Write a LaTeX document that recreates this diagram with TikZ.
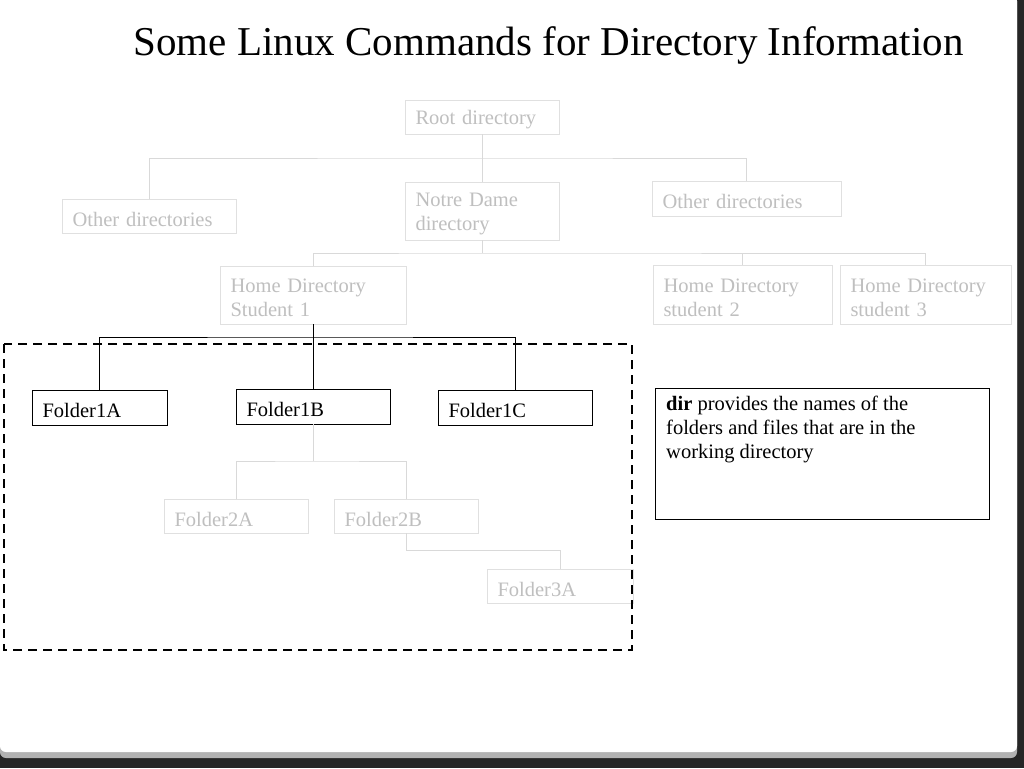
\documentclass[tikz,border=0pt]{standalone}
\usepackage{fontspec}
\setmainfont{Liberation Serif}
\begin{document}
\begin{tikzpicture}[x=1pt,y=-1pt,
  gbox/.style={draw=black!12,text=black!25,line width=1pt,rectangle,inner sep=0pt,font=\fontsize{20.5}{24}\selectfont},
  bbox/.style={draw=black,text=black,line width=1pt,rectangle,inner sep=0pt,font=\fontsize{20.5}{24}\selectfont},
  gl/.style={draw=black!15,line width=1pt},
  bl/.style={draw=black,line width=1pt}]
\useasboundingbox (0,0) rectangle (1024,768);
\fill[black!85] (0,0) rectangle (1024,768);
\fill[black!30,rounded corners=6pt] (0,-5) rectangle (1017,758);
\fill[white,rounded corners=6pt] (0,-5) rectangle (1017,752);
\node[anchor=base west,font=\fontsize{41}{48}\selectfont] (title) at (130,56) {Some Linux Commands for Directory Information};
\newcommand\mybox[7]{\path[#1] (#2,#3) rectangle (#4,#5);
  \node[#1,draw=none,anchor=west,text width=#4pt-#2pt-14pt,align=left] (#6) at (#2+10,{(#3+#5)/2+3}) {#7};
  \coordinate (#6-t) at ({(#2+#4)/2},#3); \coordinate (#6-b) at ({(#2+#4)/2},#5);}
\mybox{gbox}{405}{100}{559}{134}{root}{Root directory}
\mybox{gbox}{62}{199}{236}{233}{odl}{Other directories}
\mybox{gbox}{405}{182}{559}{240}{nd}{Notre Dame\\directory}
\mybox{gbox}{652}{181}{841}{216}{odr}{Other directories}
\mybox{gbox}{220}{266}{406}{324}{h1}{Home Directory\\Student 1}
\mybox{gbox}{653}{265}{832}{324}{h2}{Home Directory\\student 2}
\mybox{gbox}{840}{265}{1011}{324}{h3}{Home Directory\\student 3}
\mybox{bbox}{32}{390}{167}{425}{fa}{Folder1A}
\mybox{bbox}{236}{389}{390}{424}{fb}{Folder1B}
\mybox{bbox}{438}{390}{592}{425}{fc}{Folder1C}
\mybox{gbox}{164}{499}{308}{533}{f2a}{Folder2A}
\mybox{gbox}{334}{499}{478}{533}{f2b}{Folder2B}
\mybox{gbox}{487}{569}{633}{603}{f3a}{Folder3A}
\draw[line width=1pt] (655,388) rectangle (989,519);
\node[anchor=north west,align=left,font=\fontsize{20.5}{24}\selectfont,inner sep=0pt] (dir) at (666,396) {\textbf{dir} provides the names of the\\folders and files that are in the\\working directory};
\draw[gl] (root-b) -- ++(0,24) coordinate (j1);
\draw[gl] (odl-t) |- (j1) -| (odr-t);
\draw[gl] (j1) -- (nd-t);
\draw[gl] (nd-b) -- ++(0,13) coordinate (j2);
\draw[gl] (h1-t) |- (j2) -| (h3-t);
\draw[gl] (j2 -| h2-t) -- (h2-t);
\draw[bl] (h1-b) -- ++(0,13) coordinate (j3);
\draw[bl] (fa-t) |- (j3) -| (fc-t);
\draw[bl] (j3) -- (fb-t);
\draw[gl] (fb-b) -- ++(0,37) coordinate (j4);
\draw[gl] (f2a-t) |- (j4) -| (f2b-t);
\draw[gl] (f2b-b) |- ++(154,17) coordinate (j5) -- (f3a-t);
\draw[line width=1.5pt,dash pattern=on 9pt off 6pt] (4,344) rectangle (632,650);
\end{tikzpicture}
\end{document}
